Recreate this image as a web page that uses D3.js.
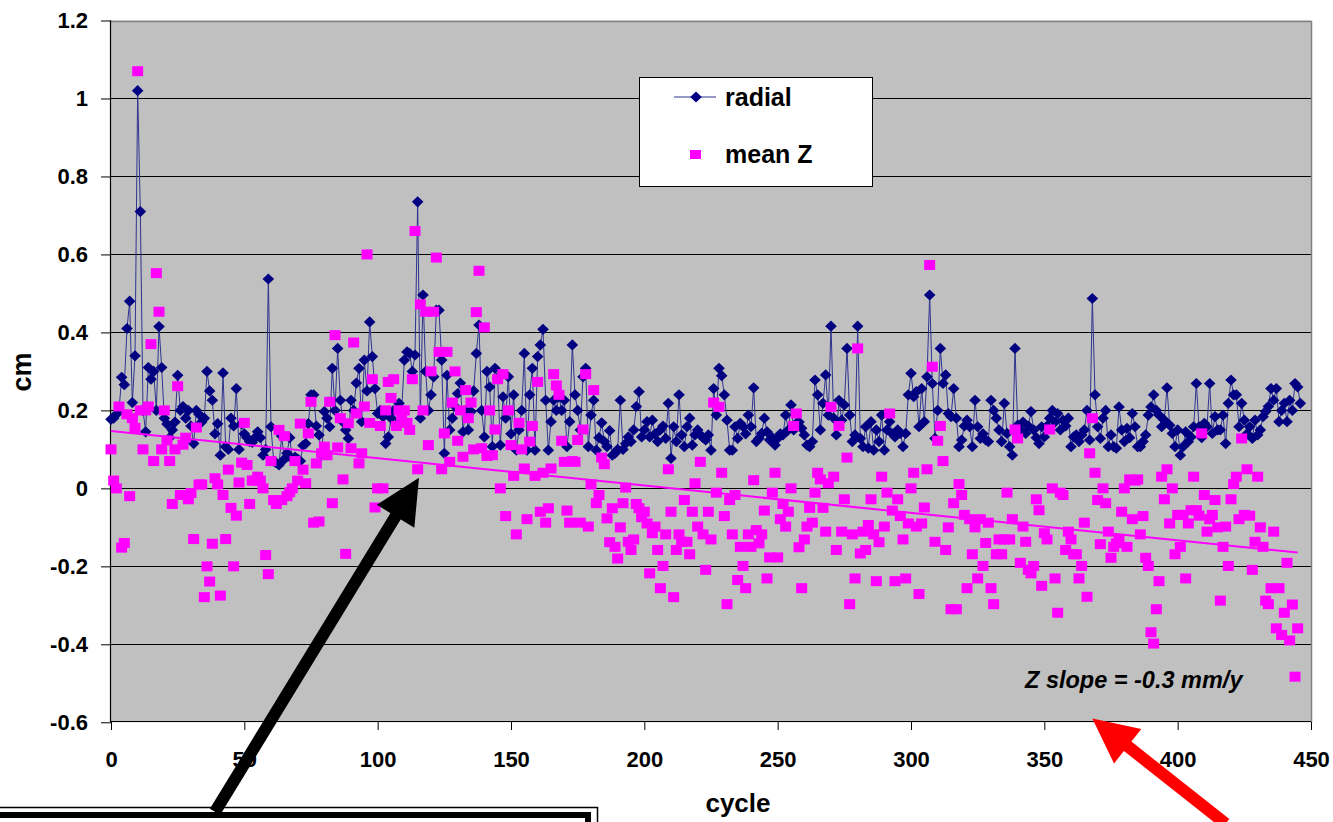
<!DOCTYPE html>
<html>
<head>
<meta charset="utf-8">
<script src="https://cdn.jsdelivr.net/npm/d3@7"></script>
<style>
  body { margin: 0; background: #fff; }
  svg { display: block; font-family: 'Liberation Sans', Arial, sans-serif; }
</style>
</head>
<body>
<div id="chart"></div>
<script>
// radial value (cm) for each cycle, starting at cycle 0
var radial = [
  0.177, 0.18, 0.19, 0.2, 0.285, 0.266, 0.41, 0.48, 0.22, 0.34,
  1.02, 0.71, 0.2, 0.145, 0.31, 0.28, 0.30, 0.2, 0.415, 0.31,
  0.18, 0.165, 0.13, 0.15, 0.17, 0.29, 0.2, 0.21, 0.18, 0.2,
  0.16, 0.115, 0.2, 0.19, 0.17, 0.18, 0.30, 0.25, 0.226, 0.14,
  0.166, 0.085, 0.296, 0.107, 0.1, 0.18, 0.16, 0.256, 0.1, 0.166,
  0.14, 0.13, 0.12, 0.118, 0.13, 0.145, 0.13, 0.085, 0.1, 0.537,
  0.158, 0.07, 0.065, 0.06, 0.134, 0.075, 0.09, 0.13, 0.075, 0.08,
  0.075, 0.07, 0.11, 0.115, 0.166, 0.24, 0.24, 0.16, 0.137, 0.085,
  0.197, 0.18, 0.158, 0.308, 0.2, 0.359, 0.226, 0.17, 0.15, 0.128,
  0.226, 0.2, 0.27, 0.308, 0.171, 0.329, 0.25, 0.427, 0.338, 0.256,
  0.192, 0.2, 0.184, 0.115, 0.132, 0.18, 0.2, 0.162, 0.218, 0.2,
  0.329, 0.35, 0.346, 0.3, 0.342, 0.735, 0.18, 0.496, 0.3, 0.2,
  0.24, 0.286, 0.457, 0.457, 0.329, 0.09, 0.29, 0.15, 0.18, 0.21,
  0.243, 0.27, 0.145, 0.2, 0.15, 0.197, 0.25, 0.346, 0.419, 0.2,
  0.132, 0.3, 0.26, 0.107, 0.308, 0.282, 0.111, 0.235, 0.18, 0.286,
  0.14, 0.24, 0.098, 0.15, 0.2, 0.346, 0.098, 0.24, 0.308, 0.098,
  0.338, 0.368, 0.408, 0.226, 0.098, 0.171, 0.226, 0.2, 0.235, 0.2,
  0.226, 0.107, 0.171, 0.368, 0.24, 0.2, 0.15, 0.286, 0.308, 0.107,
  0.188, 0.226, 0.098, 0.13, 0.168, 0.12, 0.107, 0.148, 0.085, 0.09,
  0.1, 0.226, 0.1, 0.115, 0.132, 0.12, 0.15, 0.21, 0.248, 0.132,
  0.15, 0.171, 0.132, 0.175, 0.14, 0.12, 0.15, 0.16, 0.128, 0.218,
  0.077, 0.158, 0.12, 0.24, 0.137, 0.107, 0.158, 0.18, 0.111, 0.137,
  0.15, 0.137, 0.13, 0.124, 0.137, 0.098, 0.256, 0.188, 0.308, 0.289,
  0.24, 0.175, 0.098, 0.098, 0.158, 0.128, 0.167, 0.158, 0.14, 0.188,
  0.158, 0.258, 0.12, 0.128, 0.141, 0.18, 0.145, 0.124, 0.13, 0.111,
  0.128, 0.14, 0.137, 0.188, 0.15, 0.214, 0.15, 0.167, 0.17, 0.154,
  0.137, 0.111, 0.107, 0.12, 0.278, 0.24, 0.15, 0.218, 0.291, 0.188,
  0.416, 0.18, 0.137, 0.226, 0.175, 0.214, 0.359, 0.188, 0.12, 0.137,
  0.416, 0.128, 0.107, 0.158, 0.103, 0.171, 0.098, 0.15, 0.12, 0.188,
  0.098, 0.15, 0.171, 0.14, 0.132, 0.15, 0.141, 0.107, 0.141, 0.24,
  0.295, 0.235, 0.248, 0.158, 0.256, 0.171, 0.286, 0.496, 0.269, 0.128,
  0.2, 0.359, 0.269, 0.291, 0.192, 0.184, 0.256, 0.18, 0.107, 0.124,
  0.16, 0.175, 0.158, 0.107, 0.226, 0.158, 0.128, 0.14, 0.124, 0.12,
  0.226, 0.2, 0.18, 0.15, 0.12, 0.218, 0.141, 0.107, 0.085, 0.359,
  0.162, 0.15, 0.17, 0.141, 0.16, 0.197, 0.15, 0.13, 0.115, 0.158,
  0.132, 0.16, 0.18, 0.2, 0.17, 0.192, 0.15, 0.175, 0.16, 0.18,
  0.107, 0.132, 0.137, 0.12, 0.137, 0.15, 0.2, 0.124, 0.487, 0.24,
  0.158, 0.128, 0.18, 0.2, 0.107, 0.137, 0.107, 0.103, 0.209, 0.15,
  0.12, 0.154, 0.13, 0.192, 0.158, 0.107, 0.107, 0.12, 0.137, 0.188,
  0.209, 0.24, 0.2, 0.188, 0.158, 0.175, 0.258, 0.162, 0.141, 0.107,
  0.15, 0.085, 0.107, 0.145, 0.12, 0.132, 0.158, 0.269, 0.158, 0.13,
  0.167, 0.158, 0.269, 0.141, 0.184, 0.15, 0.15, 0.188, 0.115, 0.218,
  0.278, 0.24, 0.24, 0.158, 0.218, 0.175, 0.14, 0.158, 0.128, 0.175,
  0.137, 0.15, 0.184, 0.197, 0.21, 0.256, 0.226, 0.256, 0.171, 0.2,
  0.218, 0.171, 0.226, 0.2, 0.269, 0.26, 0.218
];

// mean Z value (cm) for each cycle, starting at cycle 0
var meanZ = [
  0.10, 0.02, 0.0, 0.21, -0.152, -0.14, 0.19, -0.02, 0.18, 0.155,
  1.07, 0.2, 0.10, 0.2, 0.21, 0.37, 0.07, 0.552, 0.453, 0.1,
  0.2, 0.123, 0.07, -0.04, 0.1, 0.262, -0.017, 0.112, 0.13, -0.028,
  -0.012, -0.13, 0.156, 0.01, 0.01, -0.279, -0.2, -0.239, -0.142, 0.026,
  0.01, -0.275, -0.017, -0.13, 0.048, -0.05, -0.2, -0.07, 0.015, 0.066,
  0.168, 0.06, -0.04, 0.02, 0.02, 0.03, 0.02, 0.0, -0.171, -0.22,
  0.07, -0.03, -0.04, 0.15, -0.03, 0.134, -0.02, -0.01, 0.0, 0.07,
  0.02, 0.166, 0.048, 0.013, 0.141, 0.222, -0.088, 0.064, -0.085, 0.09,
  0.107, 0.085, 0.222, -0.038, 0.393, 0.105, 0.18, 0.023, -0.168, 0.167,
  0.103, 0.374, 0.192, 0.064, 0.09, 0.21, 0.6, 0.168, 0.28, -0.049,
  0.0, 0.16, 0.0, 0.2, 0.273, 0.232, 0.28, 0.16, 0.2, 0.18,
  0.2, 0.168, 0.15, 0.28, 0.66, 0.049, 0.472, 0.2, 0.453, 0.111,
  0.3, 0.453, 0.592, 0.35, 0.049, 0.141, 0.35, 0.068, 0.22, 0.3,
  0.122, 0.2, 0.081, 0.252, 0.18, 0.22, 0.1, 0.452, 0.558, 0.103,
  0.413, 0.083, 0.2, 0.085, 0.151, 0.28, 0.0, 0.293, -0.071, 0.2,
  0.111, 0.032, -0.118, 0.168, 0.1, 0.051, -0.079, 0.12, 0.16, 0.032,
  0.273, -0.06, 0.04, -0.088, -0.051, 0.051, 0.293, 0.264, 0.24, 0.122,
  0.068, -0.057, -0.088, 0.07, 0.068, 0.124, -0.088, 0.151, 0.293, -0.098,
  0.01, 0.252, -0.038, -0.017, 0.079, 0.062, -0.077, -0.138, -0.051, -0.15,
  -0.18, -0.1, -0.038, 0.002, -0.137, -0.158, -0.131, -0.04, -0.051, -0.074,
  -0.06, -0.09, -0.218, -0.115, -0.098, -0.158, -0.256, -0.199, -0.118, 0.049,
  -0.06, -0.279, -0.158, -0.118, -0.137, -0.03, -0.137, -0.169, -0.06, 0.013,
  -0.098, 0.068, -0.118, -0.209, -0.06, -0.131, 0.22, -0.011, 0.209, 0.04,
  -0.071, -0.297, -0.03, -0.118, -0.017, -0.235, -0.15, -0.199, -0.256, -0.118,
  -0.15, 0.021, -0.107, -0.141, -0.118, -0.057, -0.231, -0.177, -0.011, 0.04,
  -0.177, -0.079, -0.04, -0.098, -0.06, 0.0, 0.16, 0.192, -0.151, -0.256,
  -0.131, -0.098, -0.05, -0.088, -0.011, 0.04, 0.023, -0.05, -0.111, 0.013,
  0.209, 0.03, -0.158, 0.16, -0.111, -0.028, 0.079, -0.297, -0.118, -0.231,
  0.359, -0.167, -0.111, -0.158, -0.094, -0.028, -0.118, -0.238, -0.138, 0.03,
  -0.098, -0.011, 0.192, -0.057, -0.238, -0.028, -0.071, -0.131, -0.231, -0.09,
  0.0, 0.04, -0.098, -0.271, -0.09, -0.049, 0.049, 0.573, 0.312, -0.137,
  0.122, 0.16, 0.07, -0.158, -0.1, -0.31, -0.038, -0.31, 0.011, -0.017,
  -0.068, -0.256, -0.079, -0.169, -0.1, -0.231, -0.079, -0.199, -0.14, -0.088,
  -0.256, -0.297, -0.169, -0.131, -0.169, -0.131, -0.011, -0.131, -0.079, 0.151,
  0.128, -0.191, -0.098, -0.137, -0.209, -0.218, -0.199, -0.028, -0.056, -0.25,
  -0.115, -0.131, 0.151, 0.0, -0.231, -0.319, -0.011, -0.017, -0.158, -0.111,
  -0.131, -0.169, -0.169, -0.231, -0.199, -0.088, -0.278, 0.09, 0.18, 0.04,
  -0.03, -0.143, 0.0, -0.038, -0.111, -0.178, -0.15, -0.141, -0.132, -0.06,
  0.0, -0.15, 0.023, -0.079, 0.02, 0.023, -0.118, -0.071, -0.178, -0.199,
  -0.369, -0.398, -0.31, -0.238, 0.03, -0.028, 0.049, -0.09, 0.0, -0.169,
  -0.068, -0.15, -0.068, -0.231, -0.09, -0.056, 0.03, -0.056, -0.07, 0.141,
  -0.017, -0.111, -0.079, -0.068, -0.03, -0.1, -0.288, -0.15, -0.098, -0.199,
  -0.028, 0.011, 0.03, -0.079, 0.128, -0.068, 0.049, -0.07, -0.209, -0.137,
  0.03, -0.1, -0.15, -0.288, -0.297, -0.256, -0.111, -0.359, -0.256, -0.376,
  -0.319, -0.191, -0.39, -0.298, -0.483, -0.359
];

var xTicks = [0, 50, 100, 150, 200, 250, 300, 350, 400, 450];
var yTicks = [-0.6, -0.4, -0.2, 0, 0.2, 0.4, 0.6, 0.8, 1, 1.2];
var seriesNames = ['radial', 'mean Z'];
var slopeText = 'Z slope = -0.3 mm/y';

var W = 1333, H = 822;
var plot = { left: 111, right: 1311, top: 20.5, bottom: 722.3 };

var svg = d3.select('#chart').append('svg')
  .attr('width', W)
  .attr('height', H);

svg.append('rect').attr('width', W).attr('height', H).attr('fill', '#fff');

var x = d3.scaleLinear().domain([0, 450]).range([plot.left, plot.right]);
var y = d3.scaleLinear().domain([-0.6, 1.2]).range([plot.bottom, plot.top]);

function crisp(v) { return Math.round(v) + 0.5; }

// grey plot area
svg.append('rect')
  .attr('x', plot.left)
  .attr('y', plot.top)
  .attr('width', plot.right - plot.left)
  .attr('height', plot.bottom - plot.top)
  .attr('fill', '#c0c0c0');

// horizontal gridlines
svg.append('g').selectAll('line')
  .data(yTicks.filter(function (d) { return d > -0.6 && d < 1.2; }))
  .enter().append('line')
  .attr('x1', plot.left).attr('x2', plot.right)
  .attr('y1', function (d) { return crisp(y(d)); })
  .attr('y2', function (d) { return crisp(y(d)); })
  .attr('stroke', '#000').attr('stroke-width', 1);

// plot border (top / right)
svg.append('path')
  .attr('d', 'M' + plot.left + ',' + crisp(plot.top) + 'H' + crisp(plot.right) + 'V' + plot.bottom)
  .attr('fill', 'none').attr('stroke', '#808080').attr('stroke-width', 1.5);

// axes
var yAxis = svg.append('g')
  .attr('transform', 'translate(' + plot.left + ',0)')
  .call(d3.axisLeft(y).tickValues(yTicks).tickSize(10).tickPadding(13)
    .tickFormat(function (d) { return String(+d.toFixed(1)); }));

var xAxis = svg.append('g')
  .attr('transform', 'translate(0,' + Math.round(plot.bottom) + ')')
  .call(d3.axisBottom(x).tickValues(xTicks).tickSize(8).tickPadding(21)
    .tickFormat(function (d) { return String(d); }));

[xAxis, yAxis].forEach(function (ax) {
  ax.select('.domain').remove();
  ax.selectAll('line').attr('stroke', '#000');
  ax.selectAll('text')
    .attr('fill', '#000')
    .style('font-size', '22px')
    .style('font-weight', 'bold')
    .style('font-family', "'Liberation Sans', Arial, sans-serif");
});

svg.append('line')
  .attr('x1', crisp(plot.left) - 1).attr('x2', crisp(plot.left) - 1)
  .attr('y1', plot.top).attr('y2', plot.bottom)
  .attr('stroke', '#000').attr('stroke-width', 1.2);
svg.append('line')
  .attr('x1', plot.left).attr('x2', plot.right)
  .attr('y1', crisp(plot.bottom) - 1).attr('y2', crisp(plot.bottom) - 1)
  .attr('stroke', '#000').attr('stroke-width', 1.2);

// axis titles
svg.append('text')
  .attr('transform', 'translate(31,372) rotate(-90)')
  .attr('text-anchor', 'middle')
  .style('font-size', '27px').style('font-weight', 'bold')
  .text('cm');

svg.append('text')
  .attr('x', 738).attr('y', 812)
  .attr('text-anchor', 'middle')
  .style('font-size', '26px').style('font-weight', 'bold')
  .text('cycle');

// radial series: thin line plus diamonds
var diamond = 'M0,-5.6L5.8,0L0,5.6L-5.8,0Z';

svg.append('path')
  .datum(radial)
  .attr('fill', 'none')
  .attr('stroke', '#2e3390')
  .attr('stroke-width', 1)
  .attr('d', d3.line()
    .x(function (d, i) { return x(i); })
    .y(function (d) { return y(d); }));

svg.append('g').selectAll('path')
  .data(radial)
  .enter().append('path')
  .attr('d', diamond)
  .attr('transform', function (d, i) { return 'translate(' + x(i) + ',' + y(d) + ')'; })
  .attr('fill', '#000080');

// mean Z series: magenta squares
svg.append('g').selectAll('rect')
  .data(meanZ)
  .enter().append('rect')
  .attr('x', function (d, i) { return x(i) - 5.5; })
  .attr('y', function (d) { return y(d) - 5; })
  .attr('width', 11)
  .attr('height', 10)
  .attr('fill', '#ff00ff');

// linear trend of mean Z (least squares)
var xm = d3.mean(meanZ, function (d, i) { return i; });
var ym = d3.mean(meanZ);
var sxy = d3.sum(meanZ, function (d, i) { return (i - xm) * (d - ym); });
var sxx = d3.sum(meanZ, function (d, i) { return (i - xm) * (i - xm); });
var slope = sxy / sxx;
var intercept = ym - slope * xm;
var lastCycle = meanZ.length - 1;

svg.append('line')
  .attr('x1', x(0)).attr('y1', y(intercept))
  .attr('x2', x(lastCycle)).attr('y2', y(intercept + slope * lastCycle))
  .attr('stroke', '#ff00ff')
  .attr('stroke-width', 2);

svg.append('text')
  .attr('x', 1025).attr('y', 688)
  .style('font-size', '23.5px').style('font-weight', 'bold').style('font-style', 'italic')
  .text(slopeText);

// legend
var legend = svg.append('g');
legend.append('rect')
  .attr('x', 639.5).attr('y', 77.5)
  .attr('width', 233).attr('height', 109)
  .attr('fill', '#fff').attr('stroke', '#000').attr('stroke-width', 1);
legend.append('line')
  .attr('x1', 674).attr('x2', 716).attr('y1', 97).attr('y2', 97)
  .attr('stroke', '#2e3390').attr('stroke-width', 1);
legend.append('path')
  .attr('d', diamond)
  .attr('transform', 'translate(696,97)')
  .attr('fill', '#000080');
legend.append('rect')
  .attr('x', 690).attr('y', 150)
  .attr('width', 11).attr('height', 9)
  .attr('fill', '#ff00ff');
legend.selectAll('text')
  .data(seriesNames)
  .enter().append('text')
  .attr('x', 725)
  .attr('y', function (d, i) { return i === 0 ? 105.5 : 163; })
  .style('font-size', '25px').style('font-weight', 'bold')
  .text(function (d) { return d; });

// annotation arrows
function arrow(tail, tip, color) {
  var dx = tip[0] - tail[0], dy = tip[1] - tail[1];
  var len = Math.sqrt(dx * dx + dy * dy);
  var ux = dx / len, uy = dy / len;
  var headLen = 45, headHalf = 22;
  var bx = tip[0] - ux * headLen, by = tip[1] - uy * headLen;
  svg.append('line')
    .attr('x1', tail[0]).attr('y1', tail[1])
    .attr('x2', bx + ux * 2).attr('y2', by + uy * 2)
    .attr('stroke', color).attr('stroke-width', 12);
  svg.append('path')
    .attr('d', 'M' + tip[0] + ',' + tip[1] +
      'L' + (bx - uy * headHalf) + ',' + (by + ux * headHalf) +
      'L' + (bx + uy * headHalf) + ',' + (by - ux * headHalf) + 'Z')
    .attr('fill', color);
}

// bottom-left callout box (double frame, cut off by the image edge)
svg.append('path')
  .attr('d', 'M0,807.5H597.5V822')
  .attr('fill', 'none').attr('stroke', '#000').attr('stroke-width', 1.5);
svg.append('path')
  .attr('d', 'M0,815H588V822')
  .attr('fill', 'none').attr('stroke', '#000').attr('stroke-width', 6);

arrow([x(39), y(-0.83)], [x(115.5), y(0.027)], '#000');
arrow([x(418), y(-0.86)], [x(368), y(-0.59)], '#ff0000');
</script>
</body>
</html>
